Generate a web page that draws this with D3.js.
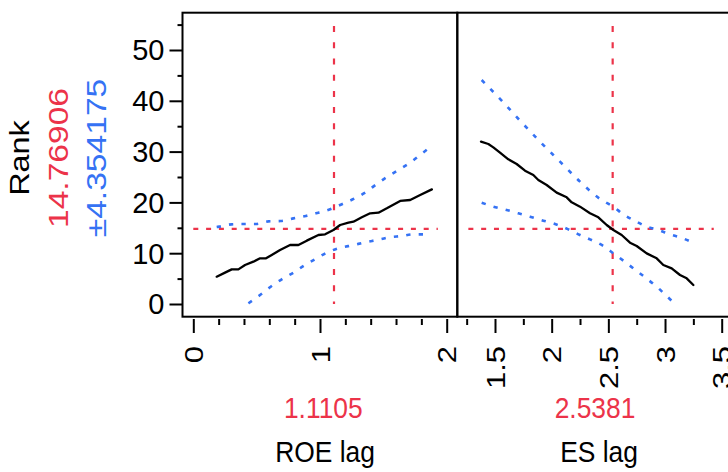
<!DOCTYPE html>
<html>
<head>
<meta charset="utf-8">
<script src="https://cdn.jsdelivr.net/npm/d3@7"></script>
<style>
  html, body { margin: 0; padding: 0; background: #fff; }
  svg { display: block; font-family: "Liberation Sans", Arial, Helvetica, sans-serif; }
</style>
</head>
<body>
<svg id="chart" width="728" height="472"></svg>
<script>
// ---------------- data ----------------
const yLabel = "Rank";
const yCurrent = "14.76906";
const yCI = "\u00B14.354175";
const currentY = 14.76906;

const factorNames = ["ROE lag", "ES lag"];
const factorCurrent = [1.1105, 2.5381];
const factorCurrentLabels = ["1.1105", "2.5381"];

const yTicks = [0, 10, 20, 30, 40, 50];
const yMinorTicks = [5, 15, 25, 35, 45, 55];
const roeTicks = [0, 1, 2];
const roeMinorTicks = [0.2, 0.4, 0.6, 0.8, 1.2, 1.4, 1.6, 1.8];
const esTicks = [1.5, 2, 2.5, 3, 3.5];
const esMinorTicks = [1.25, 1.75, 2.25, 2.75, 3.25, 3.75];

// reference line extents (data units)
const refHRanges = [[0, 1.93], [1.265, 3.43]];
const refVRange = [0, 54.7];

// ROE lag profile
const roeX = [0.1846, 0.2504, 0.303, 0.3557, 0.4084, 0.4742, 0.5269, 0.5743, 0.619, 0.6848, 0.7638, 0.8296, 0.8955, 0.9876, 1.0403, 1.106, 1.1588, 1.2246, 1.264, 1.33, 1.3957, 1.4616, 1.5274, 1.6327, 1.7117, 1.7907, 1.8828];
const roePred = [5.38, 6.17, 6.82, 6.82, 7.68, 8.33, 8.99, 8.99, 9.65, 10.63, 11.61, 11.61, 12.47, 13.58, 13.71, 14.57, 15.55, 16.01, 16.21, 17.06, 17.85, 17.98, 18.83, 20.28, 20.47, 21.46, 22.57];
const roeUpX = [0.1846, 0.206, 0.303, 0.395, 0.4953, 0.5927, 0.69, 0.79, 0.8876, 0.9876, 1.0798, 1.177, 1.269, 1.356, 1.448, 1.5326, 1.6195, 1.7117, 1.796, 1.875];
const roeUp = [15.15, 15.23, 15.68, 15.75, 15.75, 16.27, 16.34, 16.86, 17.32, 17.98, 18.64, 19.69, 20.73, 21.92, 23.62, 25.06, 26.38, 27.82, 29.46, 30.97];
const roeLoX = [0.435, 0.527, 0.611, 0.698, 0.79, 0.8744, 0.9745, 1.0535, 1.1456, 1.264, 1.356, 1.448, 1.548, 1.646, 1.738, 1.875];
const roeLo = [0.13, 1.77, 3.41, 4.86, 6.17, 7.55, 8.99, 10.1, 10.96, 11.61, 12.14, 12.6, 13.12, 13.39, 13.71, 13.71];

// ES lag profile
const esX = [1.3765, 1.4412, 1.4853, 1.5441, 1.6176, 1.6911, 1.7647, 1.8382, 1.8823, 1.9559, 2.0441, 2.1323, 2.1764, 2.25, 2.3382, 2.4117, 2.4852, 2.544, 2.6175, 2.691, 2.7499, 2.8381, 2.9263, 2.9851, 3.0586, 3.1321, 3.191, 3.2498];
const esPred = [31.96, 31.5, 30.84, 29.79, 28.48, 27.56, 26.25, 25.39, 24.41, 23.43, 21.92, 21.0, 20.01, 19.16, 17.85, 17.06, 15.55, 14.57, 13.58, 12.07, 11.42, 9.97, 8.99, 7.68, 7.02, 5.71, 5.05, 3.74];
const esUpX = [1.3824, 1.5588, 1.7294, 1.897, 2.0735, 2.25, 2.4264, 2.544, 2.6322, 2.7205, 2.8381, 2.941, 3.0441, 3.1321, 3.2498];
const esUp = [44.09, 40.03, 35.89, 31.96, 28.02, 24.08, 20.67, 19.16, 17.65, 16.54, 15.22, 14.57, 13.71, 13.12, 12.07];
const esLoX = [1.3824, 1.4853, 1.6029, 1.7058, 1.8088, 1.9264, 2.0294, 2.147, 2.25, 2.3382, 2.4558, 2.544, 2.6322, 2.7205, 2.8235, 2.9263, 3.0145, 3.088];
const esLo = [19.95, 19.16, 18.5, 17.85, 17.19, 16.4, 15.75, 14.7, 13.58, 12.73, 11.42, 9.97, 8.53, 7.02, 5.25, 3.41, 1.57, 0.0];

// ---------------- layout ----------------
const RED = "#EC3349";
const BLUE = "#3572F4";
const frameTop = 12.7, frameBottom = 316.7;
const panelLeft = [182.5, 457.3];
const panelRight = [457.3, 745];
const axisY = 319;

const svg = d3.select("#chart");

const y = d3.scaleLinear().domain([0, 50]).range([304, 50]);
const xs = [
  d3.scaleLinear().domain([0, 2]).range([193.3, 446.7]),
  d3.scaleLinear().domain([1.5, 3.5]).range([495, 721.7])
];

// ---------------- frames ----------------
const gFrame = svg.append("g");
for (let i = 0; i < 2; i++) {
  gFrame.append("rect")
    .attr("x", panelLeft[i]).attr("y", frameTop)
    .attr("width", panelRight[i] - panelLeft[i]).attr("height", frameBottom - frameTop)
    .attr("fill", "none").attr("stroke", "#000").attr("stroke-width", 2);
}

// ---------------- y axis ----------------
const yAxisG = svg.append("g").attr("transform", `translate(${panelLeft[0]},0)`);
yAxisG.call(d3.axisLeft(y).tickValues(yTicks).tickSize(13).tickPadding(5).tickFormat(d3.format("d")));
yAxisG.select(".domain").remove();
yAxisG.selectAll(".tick line").attr("stroke", "#000").attr("stroke-width", 2);
yAxisG.selectAll(".tick text")
  .attr("font-size", 29).attr("fill", "#000").attr("dy", "0.34em")
  .style("font-family", "'Liberation Sans', Arial, sans-serif");
const yMinorG = svg.append("g").attr("transform", `translate(${panelLeft[0]},0)`);
yMinorG.call(d3.axisLeft(y).tickValues(yMinorTicks).tickSize(5).tickFormat(""));
yMinorG.select(".domain").remove();
yMinorG.selectAll(".tick line").attr("stroke", "#000").attr("stroke-width", 2);

// ---------------- x axes ----------------
const majorTicks = [roeTicks, esTicks];
const minorTicks = [roeMinorTicks, esMinorTicks];
for (let i = 0; i < 2; i++) {
  const g = svg.append("g").attr("transform", `translate(0,${axisY})`);
  g.call(d3.axisBottom(xs[i]).tickValues(majorTicks[i]).tickSize(14).tickFormat(d3.format("")));
  g.select(".domain").remove();
  g.selectAll(".tick line").attr("stroke", "#000").attr("stroke-width", 2);
  g.selectAll(".tick text")
    .attr("y", null).attr("dy", "0.35em")
    .attr("text-anchor", "end")
    .attr("font-size", 26.5).attr("fill", "#000")
    .style("font-family", "'Liberation Sans', Arial, sans-serif")
    .attr("transform", "translate(0,27) rotate(-90) scale(1.17,1)");
  const gm = svg.append("g").attr("transform", `translate(0,${axisY})`);
  gm.call(d3.axisBottom(xs[i]).tickValues(minorTicks[i].filter(v => xs[i](v) < 728)).tickSize(6).tickFormat(""));
  gm.select(".domain").remove();
  gm.selectAll(".tick line").attr("stroke", "#000").attr("stroke-width", 2);
}

// ---------------- reference lines ----------------
for (let i = 0; i < 2; i++) {
  const x = xs[i];
  svg.append("line")
    .attr("x1", x(refHRanges[i][0])).attr("x2", x(refHRanges[i][1]))
    .attr("y1", y(currentY)).attr("y2", y(currentY))
    .attr("stroke", RED).attr("stroke-width", 2.2).attr("stroke-dasharray", "5,7.8");
  svg.append("line")
    .attr("x1", x(factorCurrent[i])).attr("x2", x(factorCurrent[i]))
    .attr("y1", y(refVRange[1])).attr("y2", y(refVRange[0]))
    .attr("stroke", RED).attr("stroke-width", 2.2).attr("stroke-dasharray", "6,10.2");
}

// ---------------- curves ----------------
const series = [
  { xs: [roeUpX, roeLoX], ys: [roeUp, roeLo], px: roeX, py: roePred },
  { xs: [esUpX, esLoX], ys: [esUp, esLo], px: esX, py: esPred }
];
for (let i = 0; i < 2; i++) {
  const x = xs[i];
  const s = series[i];
  for (let k = 0; k < 2; k++) {
    const pts = s.xs[k].map((v, j) => [v, s.ys[k][j]]);
    svg.append("path")
      .attr("d", d3.line().x(d => x(d[0])).y(d => y(d[1])).curve(d3.curveMonotoneX)(pts))
      .attr("fill", "none").attr("stroke", BLUE).attr("stroke-width", 2.6)
      .attr("stroke-dasharray", "4.3,8.2");
  }
  const p = s.px.map((v, j) => [v, s.py[j]]);
  svg.append("path")
    .attr("d", d3.line().x(d => x(d[0])).y(d => y(d[1]))(p))
    .attr("fill", "none").attr("stroke", "#000").attr("stroke-width", 2.3)
    .attr("stroke-linejoin", "round").attr("stroke-linecap", "round");
}

// ---------------- y labels (rotated) ----------------
const yLab = [
  { t: yLabel, x: 29.3, c: "#000", fs: 27 },
  { t: yCurrent, x: 68.3, c: RED, fs: 28 },
  { t: yCI, x: 105.5, c: BLUE, fs: 28 }
];
yLab.forEach(d => {
  svg.append("text")
    .attr("transform", `translate(${d.x},158) rotate(-90) scale(1.2,1)`)
    .attr("text-anchor", "middle")
    .attr("font-size", d.fs).attr("fill", d.c)
    .text(d.t);
});

// ---------------- x labels ----------------
const labelCenters = [[323.3, 325], [595, 599]];
for (let i = 0; i < 2; i++) {
  svg.append("text")
    .attr("transform", `translate(${labelCenters[i][0]},418.3) scale(0.91,1)`)
    .attr("text-anchor", "middle").attr("font-size", 29).attr("fill", RED)
    .text(factorCurrentLabels[i]);
  svg.append("text")
    .attr("transform", `translate(${labelCenters[i][1]},461.7) scale(0.88,1)`)
    .attr("text-anchor", "middle").attr("font-size", 30).attr("fill", "#000")
    .text(factorNames[i]);
}
</script>
</body>
</html>
